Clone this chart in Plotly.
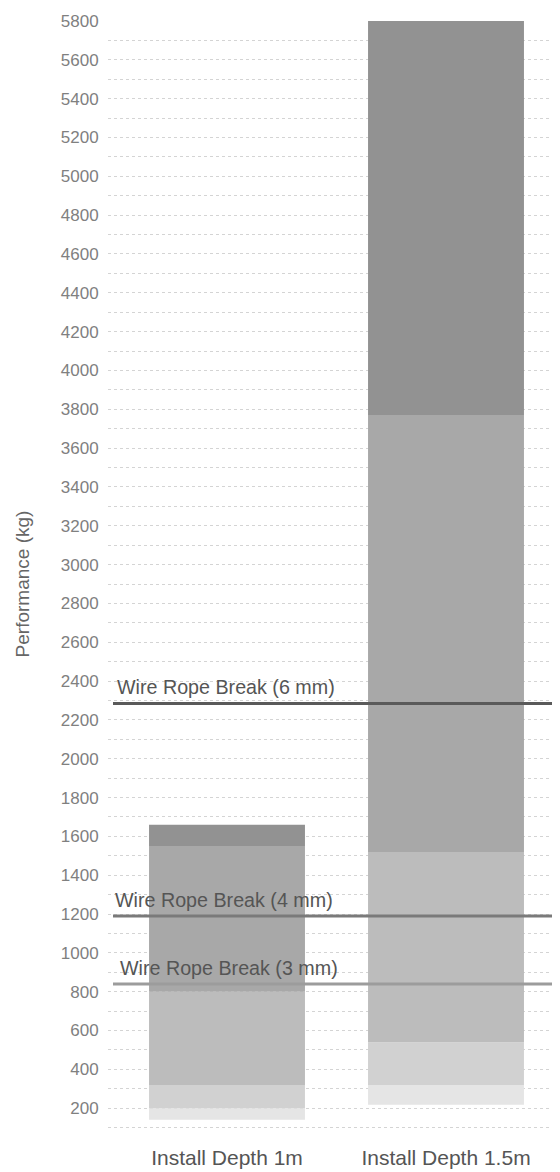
import plotly.graph_objects as go

# ---- data ----
categories = ["Install Depth 1m", "Install Depth 1.5m"]
bar_start = [140, 217]
tier1_top = [200, 320]
tier2_top = [320, 540]
tier3_top = [800, 1520]
tier4_top = [1550, 3770]
tier5_top = [1660, 5800]

wire_labels = ["Wire Rope Break (6 mm)", "Wire Rope Break (4 mm)", "Wire Rope Break (3 mm)"]
wire_values = [2285, 1190, 840]

y_ticks = list(range(200, 5801, 200))

# ---- styles ----
tier_colors = ["#e5e5e5", "#d1d1d1", "#bcbcbc", "#a8a8a8", "#929292"]
wire_colors = ["#5a5a5a", "#7a7a7a", "#9c9c9c"]
FONT = "Liberation Sans, Arial, Helvetica, sans-serif"

# page body has an 8px offset; figure is sized/margined to compensate
OFF = 8
FW, FH = 560 - OFF, 1172 - OFF
L, T = 108 - OFF, 21 - OFF          # plot left/top on page: 108, 21
PR, PB = 558 - OFF, 1147 - OFF      # plot right/bottom on page: 558, 1147
R, B = FW - PR, FH - PB
W = PR - L
wire_text_x = [115 - OFF, 113 - OFF, 118 - OFF]
line_x0 = 113 - OFF
c0, step = 227 - OFF, 219           # bar centre and spacing in px

fig = go.Figure()

tiers = [tier1_top, tier2_top, tier3_top, tier4_top, tier5_top]
lower = bar_start
xpos = list(range(len(categories)))
for i, top in enumerate(tiers):
    fig.add_trace(go.Bar(
        x=xpos,
        y=[t - b for t, b in zip(top, lower)],
        base=lower,
        width=0.712,
        marker=dict(color=tier_colors[i], line=dict(width=0)),
        hoverinfo="skip",
        showlegend=False,
    ))
    lower = top

for lab, val, col, tx in zip(wire_labels, wire_values, wire_colors, wire_text_x):
    fig.add_shape(type="line", xref="paper", yref="y",
                  x0=(line_x0 - L) / W, x1=1.0, y0=val, y1=val,
                  line=dict(color=col, width=3), layer="above")
    fig.add_annotation(text=lab, xref="paper", yref="y",
                       x=(tx - L) / W, y=val, xanchor="left", yanchor="bottom",
                       yshift=3, showarrow=False,
                       font=dict(family=FONT, size=19.7, color="#555555"))

fig.update_layout(
    width=FW, height=FH,
    margin=dict(l=L, r=R, t=T, b=B, pad=0),
    paper_bgcolor="white", plot_bgcolor="white",
    barmode="overlay",
    template="none",
    font=dict(family=FONT),
    xaxis=dict(
        range=[(L - c0) / step, (PR - c0) / step],
        tickvals=xpos, ticktext=categories,
        showgrid=False, zeroline=False, showline=False,
        ticks="", ticklabelstandoff=-4,
        tickfont=dict(family=FONT, size=21, color="#555555"),
        automargin=False,
    ),
    yaxis=dict(
        range=[0, 5800],
        tickvals=y_ticks,
        showgrid=True, gridcolor="#d4d4d4", griddash="dot", gridwidth=1,
        minor=dict(dtick=100, tick0=0, showgrid=True, gridcolor="#d4d4d4",
                   griddash="dot", gridwidth=1),
        zeroline=False, showline=False,
        ticks="outside", ticklen=5, tickcolor="rgba(0,0,0,0)",
        tickfont=dict(family=FONT, size=17, color="#808080"),
        title=dict(text="Performance (kg)", standoff=26,
                   font=dict(family=FONT, size=19, color="#666666")),
        automargin=False,
    ),
)

fig.write_html("out.html")
